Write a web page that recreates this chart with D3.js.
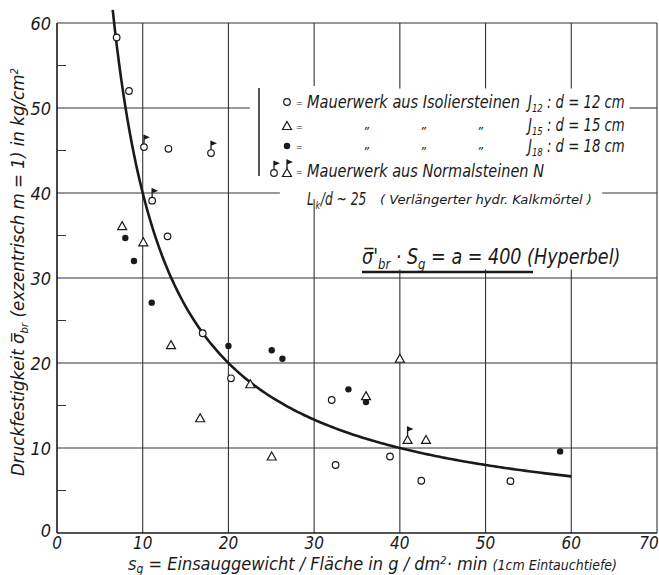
<!DOCTYPE html>
<html>
<head>
<meta charset="utf-8">
<script src="https://cdnjs.cloudflare.com/ajax/libs/d3/7.8.5/d3.min.js"></script>
<style>
  body { margin: 0; background: #fff; }
  text { font-family: "DejaVu Sans", sans-serif; font-stretch: condensed; font-style: italic; fill: #1a1a1a; }
</style>
</head>
<body>
<div id="chart"></div>
<script>
// data
var xTicks = [0, 10, 20, 30, 40, 50, 60, 70];
var yTicks = [0, 10, 20, 30, 40, 50, 60];
var yMinor = [5, 15, 25, 35, 45, 55];

// J12 open circles
var isol12 = [[6.96, 58.3], [8.4, 52.0], [13.0, 45.2], [12.9, 34.9], [17.0, 23.5], [20.3, 18.2],
  [32.05, 15.65], [32.5, 8.0], [38.85, 9.0], [42.5, 6.15], [52.9, 6.1]];
// J15 triangles
var isol15 = [[7.6, 36.1], [10.07, 34.2], [13.3, 22.1], [16.7, 13.5], [22.55, 17.5], [25.05, 9.0],
  [36.05, 16.1], [40.0, 20.5], [43.05, 10.95]];
// J18 dots
var isol18 = [[7.97, 34.7], [8.98, 32.0], [11.05, 27.1], [20.0, 22.0], [25.05, 21.5], [26.3, 20.5],
  [34.0, 16.9], [36.05, 15.4], [58.7, 9.6]];
// Normalsteine (flagged)
var normCircle = [[10.15, 45.4], [17.97, 44.7], [11.1, 39.1]];
var normTriangle = [[40.9, 10.95]];

// hyperbola sigma * s = a
var a = 400;
var curveFrom = 6.5, curveTo = 60;

var width = 659, height = 575;

var svg = d3.select("#chart").append("svg")
  .attr("width", width)
  .attr("height", height);

var x = d3.scaleLinear().domain([0, 70]).range([57, 657]);
var y = d3.scaleLinear().domain([0, 60]).range([533, 23]);

var ink = "#1a1a1a";

// grid - some lines are broken by the legend block
var vGrid = [
  { v: 10, from: 0, to: 60 }, { v: 20, from: 0, to: 60 },
  { v: 30, from: 0, to: 39.3 }, { v: 30, from: 52.6, to: 60 },
  { v: 40, from: 0, to: 31 }, { v: 40, from: 52.3, to: 60 },
  { v: 50, from: 0, to: 31 }, { v: 50, from: 52.3, to: 60 },
  { v: 60, from: 0, to: 31 }, { v: 60, from: 52.3, to: 60 },
  { v: 70, from: 0, to: 60 }
];
var hGrid = [
  { v: 10, from: 0, to: 70 }, { v: 20, from: 0, to: 70 }, { v: 30, from: 0, to: 70 },
  { v: 40, from: 0, to: 26 }, { v: 40, from: 63.6, to: 70 },
  { v: 50, from: 0, to: 22.5 }, { v: 50, from: 66.8, to: 70 },
  { v: 60, from: 0, to: 70 }
];

svg.append("g").selectAll("line").data(vGrid).enter().append("line")
  .attr("x1", function (d) { return x(d.v); })
  .attr("x2", function (d) { return x(d.v); })
  .attr("y1", function (d) { return y(d.from); })
  .attr("y2", function (d) { return y(d.to); })
  .attr("stroke", "#333").attr("stroke-width", 1.1);

svg.append("g").selectAll("line").data(hGrid).enter().append("line")
  .attr("y1", function (d) { return y(d.v); })
  .attr("y2", function (d) { return y(d.v); })
  .attr("x1", function (d) { return x(d.from); })
  .attr("x2", function (d) { return x(d.to); })
  .attr("stroke", "#333").attr("stroke-width", 1.1);

// axes
svg.append("line").attr("x1", x(0)).attr("x2", x(0)).attr("y1", y(0)).attr("y2", y(60))
  .attr("stroke", ink).attr("stroke-width", 1.6);
svg.append("line").attr("x1", x(0)).attr("x2", x(70)).attr("y1", y(0)).attr("y2", y(0))
  .attr("stroke", ink).attr("stroke-width", 1.6);

svg.append("g").selectAll("line").data(yMinor).enter().append("line")
  .attr("x1", x(0)).attr("x2", x(0) + 9)
  .attr("y1", function (d) { return y(d); })
  .attr("y2", function (d) { return y(d); })
  .attr("stroke", "#333").attr("stroke-width", 1);

// tick labels
svg.append("g").selectAll("text").data(xTicks).enter().append("text")
  .attr("x", function (d) { return d === 70 ? x(d) - 8 : x(d); })
  .attr("y", 549)
  .attr("text-anchor", "middle")
  .style("font-size", "17px")
  .text(function (d) { return d; });

svg.append("g").selectAll("text").data(yTicks).enter().append("text")
  .attr("x", 51)
  .attr("y", function (d) { return d === 0 ? y(d) + 4 : y(d) + 7; })
  .attr("text-anchor", "end")
  .style("font-size", "18px")
  .text(function (d) { return d; });

// hyperbola
var curve = d3.range(curveFrom, curveTo + 0.01, 0.25).map(function (s) { return [s, a / s]; });
svg.append("path")
  .datum(curve)
  .attr("fill", "none")
  .attr("stroke", ink)
  .attr("stroke-width", 2.6)
  .attr("d", d3.line().x(function (d) { return x(d[0]); }).y(function (d) { return y(d[1]); }));

// markers
function circle(g, cx, cy) {
  g.append("circle").attr("cx", cx).attr("cy", cy).attr("r", 3.3)
    .attr("fill", "#fff").attr("stroke", ink).attr("stroke-width", 1.2);
}
function dot(g, cx, cy) {
  g.append("circle").attr("cx", cx).attr("cy", cy).attr("r", 3.2).attr("fill", ink);
}
function triangle(g, cx, cy) {
  g.append("path")
    .attr("d", "M" + cx + "," + (cy - 4.5) + "L" + (cx + 4.5) + "," + (cy + 3.5) + "L" + (cx - 4.5) + "," + (cy + 3.5) + "Z")
    .attr("fill", "#fff").attr("stroke", ink).attr("stroke-width", 1.2);
}
function flag(g, cx, top) {
  g.append("line").attr("x1", cx).attr("x2", cx).attr("y1", top).attr("y2", top - 9)
    .attr("stroke", ink).attr("stroke-width", 1.3);
  g.append("path")
    .attr("d", "M" + cx + "," + (top - 9) + "L" + (cx + 6) + "," + (top - 6.5) + "L" + cx + "," + (top - 4) + "Z")
    .attr("fill", ink);
}

var marks = svg.append("g");
isol12.forEach(function (d) { circle(marks, x(d[0]), y(d[1])); });
isol15.forEach(function (d) { triangle(marks, x(d[0]), y(d[1])); });
isol18.forEach(function (d) { dot(marks, x(d[0]), y(d[1])); });
normCircle.forEach(function (d) { circle(marks, x(d[0]), y(d[1])); flag(marks, x(d[0]), y(d[1]) - 3.3); });
normTriangle.forEach(function (d) { triangle(marks, x(d[0]), y(d[1])); flag(marks, x(d[0]), y(d[1]) - 4.5); });

// squeezed text (the drawing uses a narrow hand lettering)
function narrow(g, px, py, sx, size, rot) {
  var tr = "translate(" + px + "," + py + ")" + (rot ? " rotate(" + rot + ")" : "") + " scale(" + sx + ",1)";
  return g.append("text").attr("transform", tr).style("font-size", size + "px");
}

// legend
var lg = svg.append("g");
lg.append("line").attr("x1", 259).attr("x2", 259).attr("y1", 88).attr("y2", 176)
  .attr("stroke", ink).attr("stroke-width", 1.5);

circle(lg, 287, 102);
triangle(lg, 287, 126);
dot(lg, 287, 146);
circle(lg, 274, 173); flag(lg, 274, 169.7);
triangle(lg, 287, 173); flag(lg, 287, 168.5);

var rows = [102, 126, 146, 171];
rows.forEach(function (r) {
  lg.append("text").attr("x", 296).attr("y", r + 4).style("font-size", "9px").style("font-style", "normal").text("=");
});

lg.append("text").attr("x", 307).attr("y", 108).style("font-size", "17px")
  .attr("textLength", 213).attr("lengthAdjust", "spacingAndGlyphs")
  .text("Mauerwerk aus Isoliersteinen");
lg.append("text").attr("x", 307).attr("y", 177).style("font-size", "17px")
  .attr("textLength", 237).attr("lengthAdjust", "spacingAndGlyphs")
  .text("Mauerwerk aus Normalsteinen N");

[130, 150].forEach(function (r) {
  [363, 420, 477].forEach(function (px) {
    lg.append("text").attr("x", px).attr("y", r + 6).style("font-size", "13px").text("\u201D");
  });
});

function jLabel(yy, sub, dval) {
  var t = narrow(lg, 528, yy, 0.865, 17);
  t.append("tspan").text("J");
  t.append("tspan").attr("baseline-shift", "-4").style("font-size", "11px").text(sub);
  t.append("tspan").text(" : d = " + dval + " cm");
}
jLabel(108, "12", 12);
jLabel(131, "15", 15);
jLabel(152, "18", 18);

var lk = narrow(lg, 307, 205, 0.8, 17);
lk.append("tspan").text("L");
lk.append("tspan").attr("dx", 2).attr("baseline-shift", "-4").style("font-size", "11px").text("k");
lk.append("tspan").attr("dx", 1).text("/d ~ 25");
lg.append("text").attr("x", 380).attr("y", 204).style("font-size", "12.5px")
  .attr("textLength", 212).attr("lengthAdjust", "spacingAndGlyphs")
  .text("( Verlängerter hydr. Kalkmörtel )");

// formula
var f = narrow(svg, 362, 264, 0.93, 21);
f.append("tspan").text("\u03C3\u0305'");
f.append("tspan").attr("baseline-shift", "-5").style("font-size", "14px").text("br");
f.append("tspan").text(" \u00B7 S");
f.append("tspan").attr("baseline-shift", "-5").style("font-size", "14px").text("g");
f.append("tspan").text(" = a = 400 (Hyperbel)");
svg.append("line").attr("x1", 362).attr("x2", 533).attr("y1", 272).attr("y2", 272)
  .attr("stroke", ink).attr("stroke-width", 2.4);

// axis titles
var yl = narrow(svg, 24, 272, 1.03, 18, -90).attr("text-anchor", "middle");
yl.append("tspan").text("Druckfestigkeit \u03C3\u0305");
yl.append("tspan").attr("baseline-shift", "-4").style("font-size", "11px").text("br");
yl.append("tspan").text(" (exzentrisch m = 1) in kg/cm");
yl.append("tspan").attr("baseline-shift", "super").style("font-size", "11px").text("2");

var xl = narrow(svg, 128, 570, 1, 18);
xl.append("tspan").text("s");
xl.append("tspan").attr("baseline-shift", "-3").style("font-size", "12px").text("g");
xl.append("tspan").text(" = Einsauggewicht / Fläche  in  g / dm");
xl.append("tspan").attr("baseline-shift", "super").style("font-size", "11px").text("2");
xl.append("tspan").text("\u00B7 min  ");
xl.append("tspan").style("font-size", "14px").text("(1cm Eintauchtiefe)");
</script>
</body>
</html>
